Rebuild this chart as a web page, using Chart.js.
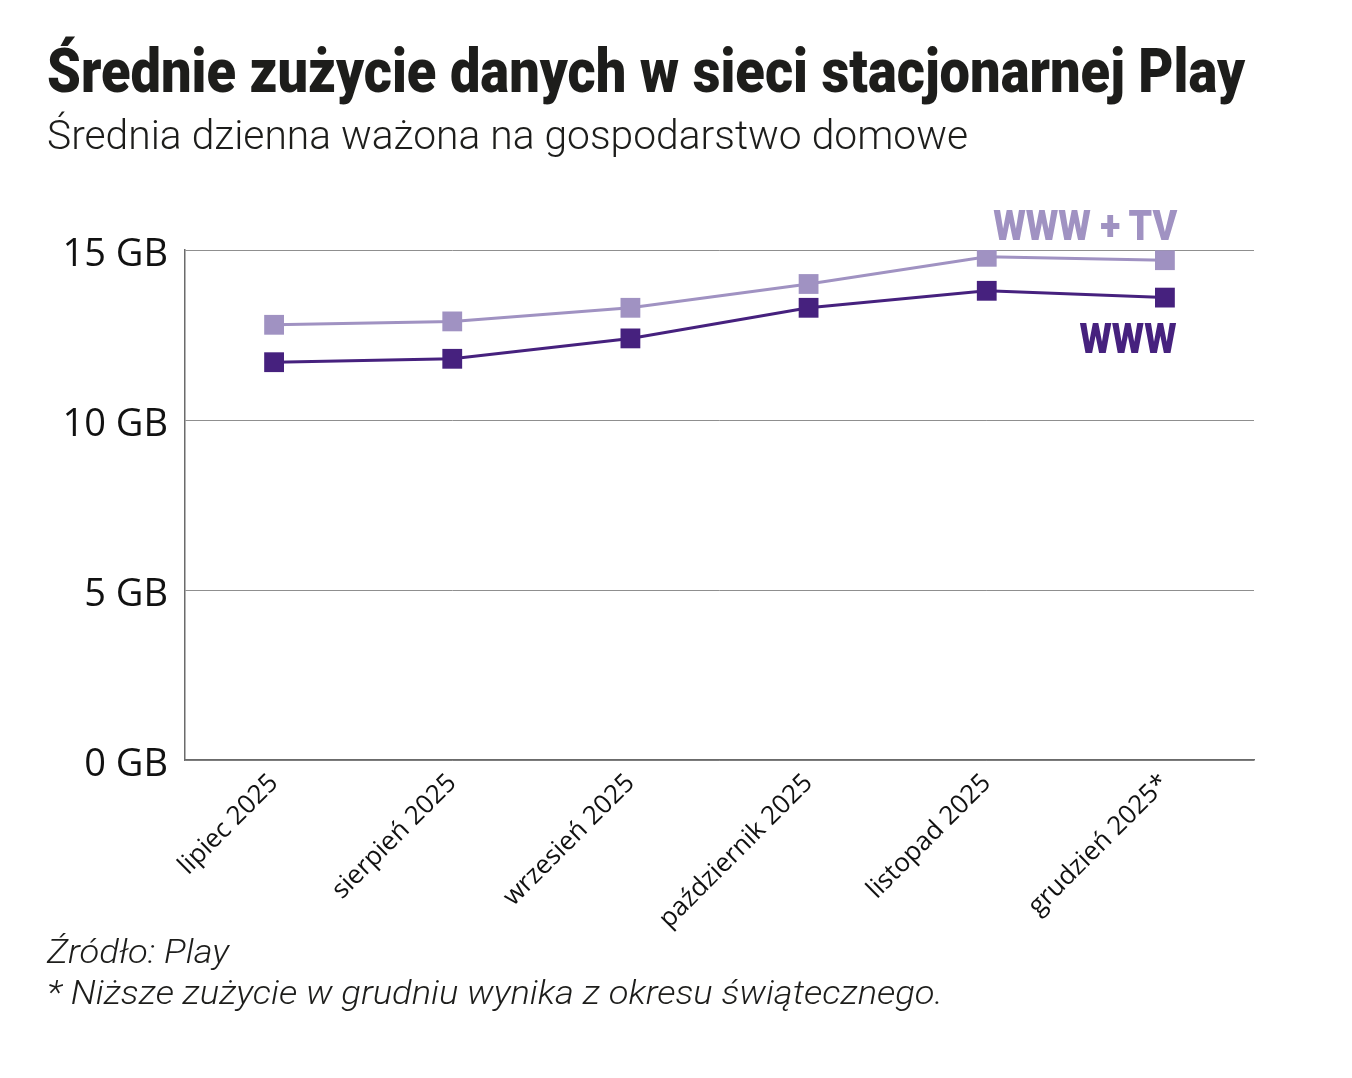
<!DOCTYPE html>
<html lang="pl">
<head>
<meta charset="utf-8">
<script src="https://cdn.jsdelivr.net/npm/chart.js@4"></script>
<style>
  html, body { margin: 0; padding: 0; background: #fff; }
  body { width: 1352px; height: 1078px; position: relative; overflow: hidden; font-family: Roboto, sans-serif; }
  #wykres { position: absolute; left: 0; top: 0; }
  .txt { position: absolute; white-space: nowrap; line-height: 1; color: #1d1d1b; }
  #tytul { left: 47px; top: 40px; font-size: 62px; font-weight: 900; transform-origin: left top; }
  #podtytul { left: 47px; top: 115px; font-size: 41px; font-weight: 300; transform-origin: left top; }
  #zrodlo { left: 47px; top: 935px; font-size: 33px; font-weight: 300; font-style: italic; transform-origin: left top; }
  #przypis { left: 47px; top: 976px; font-size: 33px; font-weight: 300; font-style: italic; transform-origin: left top; }
  .seria { right: 175px; font-size: 42px; font-weight: 900; transform-origin: right top; }
  #etTv { top: 205px; color: #a092c2; }
  #etWww { top: 318px; color: #46217e; }
</style>
</head>
<body>
<canvas id="wykres" width="1352" height="1078"></canvas>
<div class="txt" id="tytul">Średnie zużycie danych w sieci stacjonarnej Play</div>
<div class="txt" id="podtytul">Średnia dzienna ważona na gospodarstwo domowe</div>
<div class="txt seria" id="etTv">WWW + TV</div>
<div class="txt seria" id="etWww">WWW</div>
<div class="txt" id="zrodlo">Źródło: Play</div>
<div class="txt" id="przypis">* Niższe zużycie w grudniu wynika z okresu świątecznego.</div>
<script>
// dane (GB na dzień)
const miesiace = ['lipiec 2025', 'sierpień 2025', 'wrzesień 2025', 'październik 2025', 'listopad 2025', 'grudzień 2025*'];
const wwwTv = [12.8, 12.9, 13.3, 14.0, 14.8, 14.7];
const www = [11.7, 11.8, 12.4, 13.3, 13.8, 13.6];
const osY = [0, 5, 10, 15];

const kolorJasny = '#a092c2';
const kolorCiemny = '#46217e';

// dopasowanie szerokosci tekstow (czcionka w oryginale jest zwezona)
function dopasuj(id, szer) {
  const el = document.getElementById(id);
  const w = el.getBoundingClientRect().width;
  el.style.transform = 'scaleX(' + (szer / w) + ')';
}
dopasuj('tytul', 1198);
dopasuj('podtytul', 921);
dopasuj('zrodlo', 182);
dopasuj('przypis', 896);
dopasuj('etTv', 184);
dopasuj('etWww', 97);

const ctx = document.getElementById('wykres').getContext('2d');
const wykres = new Chart(ctx, {
  type: 'line',
  data: {
    labels: miesiace,
    datasets: [{
      label: 'WWW + TV',
      data: wwwTv,
      borderColor: kolorJasny,
      backgroundColor: kolorJasny,
      borderWidth: 3,
      pointStyle: 'rect',
      pointRadius: 14,
      pointBorderWidth: 0,
      pointBackgroundColor: kolorJasny
    }, {
      label: 'WWW',
      data: www,
      borderColor: kolorCiemny,
      backgroundColor: kolorCiemny,
      borderWidth: 3,
      pointStyle: 'rect',
      pointRadius: 14,
      pointBorderWidth: 0,
      pointBackgroundColor: kolorCiemny
    }]
  },
  options: {
    responsive: false,
    animation: false,
    layout: { padding: { top: 250, right: 98, left: 0, bottom: 0 } },
    plugins: {
      legend: { display: false },
      tooltip: { enabled: false }
    },
    scales: {
      x: {
        offset: true,
        grid: { display: false },
        border: { display: true, color: '#6b6b6b', width: 1.5 },
        ticks: {
          color: '#111',
          font: { family: 'Open Sans', size: 26 },
          minRotation: 45,
          maxRotation: 45,
          padding: 0
        },
        afterFit: function(scale) { scale.height = 318; }
      },
      y: {
        min: 0,
        max: 15,
        afterBuildTicks: function(scale) { scale.ticks = osY.map(v => ({ value: v })); },
        grid: { color: '#8f8f8f', lineWidth: 1, drawTicks: false },
        border: { display: true, color: '#6b6b6b', width: 1.5 },
        ticks: {
          color: '#111',
          font: { family: 'Open Sans', size: 38 },
          padding: 17,
          labelOffset: 5,
          callback: function(v) { return v + ' GB'; }
        },
        afterFit: function(scale) { scale.width = 185; }
      }
    }
  }
});
</script>
</body>
</html>
